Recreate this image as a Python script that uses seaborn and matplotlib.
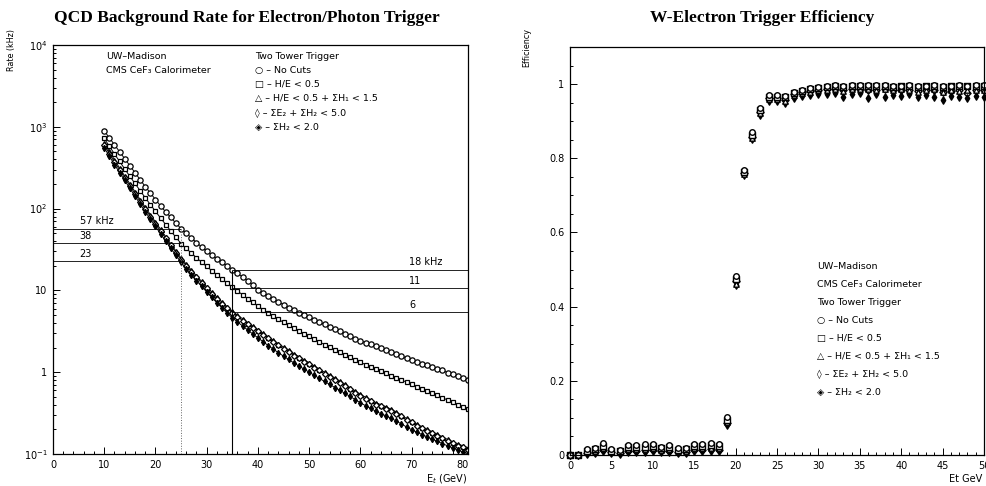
import matplotlib
matplotlib.use("Agg")
import matplotlib.pyplot as plt
import seaborn as sns
from matplotlib.ticker import FixedLocator, MultipleLocator, LogLocator, NullFormatter

# ---------------- data: QCD background rate (kHz) vs Et (GeV) ----------------
et_rate = list(range(10, 82))
rate_nocuts = [891, 733, 603, 495, 407, 335, 275, 226, 186, 155, 129, 108, 91, 78, 66, 57,
               50, 44, 38.5, 34, 30, 27, 24.5, 22, 20, 18, 16.2, 14.6, 13.2, 11.6, 10.2,
               9.3, 8.5, 7.85, 7.24, 6.68, 6.17, 5.71, 5.31, 4.98, 4.68, 4.37, 4.07, 3.83,
               3.59, 3.37, 3.16, 2.95, 2.75, 2.58, 2.43, 2.30, 2.19, 2.07, 1.95, 1.85, 1.76,
               1.66, 1.57, 1.49, 1.41, 1.34, 1.27, 1.21, 1.15, 1.10, 1.05, 0.99, 0.94, 0.90,
               0.85, 0.81]
rate_he = [720, 578, 466, 377, 305, 248, 203, 166, 136, 112, 92.7, 76.7, 63.8, 53.2, 44.5,
           37.3, 32.6, 28.6, 25.1, 22.1, 19.6, 17.4, 15.5, 13.8, 12.3, 11.0, 9.86, 8.83,
           7.93, 7.13, 6.43, 5.82, 5.31, 4.85, 4.44, 4.06, 3.73, 3.44, 3.18, 2.95, 2.74,
           2.54, 2.35, 2.18, 2.03, 1.88, 1.75, 1.63, 1.52, 1.41, 1.32, 1.24, 1.16, 1.09,
           1.03, 0.966, 0.910, 0.855, 0.804, 0.757, 0.711, 0.668, 0.630, 0.592, 0.555,
           0.520, 0.488, 0.457, 0.429, 0.402, 0.377, 0.353]
rate_he_h1 = [640, 500, 395, 313, 250, 201, 161, 129, 104, 84.5, 68.5, 55.8, 45.5, 37.0,
              30.3, 24.8, 21.0, 17.7, 15.1, 12.9, 11.1, 9.55, 8.28, 7.22, 6.32, 5.56, 4.99,
              4.50, 4.05, 3.65, 3.30, 2.99, 2.71, 2.45, 2.23, 2.03, 1.86, 1.69, 1.55, 1.42,
              1.30, 1.19, 1.09, 1.00, 0.92, 0.85, 0.775, 0.71, 0.645, 0.59, 0.535, 0.495,
              0.458, 0.426, 0.400, 0.378, 0.352, 0.326, 0.298, 0.272, 0.250, 0.232, 0.215,
              0.200, 0.187, 0.174, 0.162, 0.151, 0.141, 0.133, 0.126, 0.119]
rate_eh5 = [555, 437, 346, 276, 221, 177, 142, 114, 92, 74.5, 60.5, 49.2, 40.1, 32.7, 26.8,
            22.0, 18.5, 15.6, 13.2, 11.2, 9.6, 8.2, 7.05, 6.1, 5.3, 4.62, 4.12, 3.68, 3.28,
            2.93, 2.63, 2.36, 2.12, 1.91, 1.73, 1.57, 1.43, 1.30, 1.19, 1.09, 1.00, 0.915,
            0.84, 0.77, 0.71, 0.65, 0.60, 0.55, 0.505, 0.462, 0.422, 0.390, 0.360, 0.334,
            0.311, 0.292, 0.273, 0.253, 0.233, 0.214, 0.198, 0.185, 0.173, 0.162, 0.152,
            0.143, 0.134, 0.126, 0.119, 0.112, 0.106, 0.101]
rate_h2 = [600, 470, 370, 298, 236, 190, 152, 122, 99, 80, 65, 53, 43.5, 35.5, 29.0, 23.6,
           20.1, 16.8, 14.5, 12.3, 10.6, 9.1, 7.95, 6.85, 6.05, 5.3, 4.78, 4.28, 3.88, 3.47,
           3.16, 2.84, 2.59, 2.33, 2.14, 1.93, 1.78, 1.60, 1.49, 1.34, 1.25, 1.12, 1.05,
           0.95, 0.885, 0.80, 0.74, 0.67, 0.62, 0.555, 0.515, 0.468, 0.440, 0.402, 0.383,
           0.356, 0.340, 0.310, 0.289, 0.258, 0.243, 0.220, 0.209, 0.190, 0.182, 0.166,
           0.158, 0.144, 0.138, 0.127, 0.123, 0.113]

# reference cut lines (kHz) and their labels
ref_et_low, ref_et_high = 25, 35
ref_levels_low = [57, 38, 23]
ref_labels_low = ["57 kHz", "38", "23"]
ref_levels_high = [18, 10.8, 5.5]
ref_labels_high = ["18 kHz", "11", "6"]

# ---------------- data: W-electron trigger efficiency vs Et (GeV) ----------------
et_eff = list(range(0, 51))
eff_nocuts = [0.0, 0.0, 0.016, 0.020, 0.033, 0.015, 0.013, 0.028, 0.026, 0.029, 0.031,
              0.022, 0.027, 0.018, 0.018, 0.030, 0.031, 0.033, 0.030, 0.102, 0.482, 0.768,
              0.870, 0.935, 0.970, 0.970, 0.968, 0.980, 0.985, 0.990, 0.992, 0.995, 0.997,
              0.995, 0.997, 0.998, 0.997, 0.997, 0.997, 0.995, 0.996, 0.997, 0.995, 0.996,
              0.997, 0.995, 0.996, 0.997, 0.996, 0.997, 0.997]
eff_he = [0.0, 0.0, 0.012, 0.016, 0.025, 0.012, 0.010, 0.022, 0.021, 0.022, 0.024, 0.018,
          0.021, 0.014, 0.015, 0.024, 0.025, 0.026, 0.024, 0.095, 0.475, 0.764, 0.862,
          0.930, 0.966, 0.966, 0.965, 0.977, 0.982, 0.988, 0.990, 0.993, 0.995, 0.993,
          0.995, 0.996, 0.995, 0.995, 0.995, 0.993, 0.994, 0.995, 0.993, 0.994, 0.995,
          0.993, 0.994, 0.995, 0.994, 0.995, 0.995]
eff_he_h1 = [0.0, 0.0, 0.008, 0.012, 0.018, 0.010, 0.008, 0.016, 0.015, 0.017, 0.018,
             0.013, 0.016, 0.010, 0.011, 0.018, 0.018, 0.019, 0.018, 0.088, 0.462, 0.758,
             0.855, 0.922, 0.960, 0.960, 0.955, 0.970, 0.975, 0.980, 0.983, 0.985, 0.988,
             0.982, 0.986, 0.988, 0.987, 0.983, 0.987, 0.984, 0.986, 0.985, 0.980, 0.984,
             0.987, 0.978, 0.984, 0.981, 0.983, 0.985, 0.984]
eff_eh5 = [0.0, 0.0, 0.004, 0.006, 0.010, 0.005, 0.004, 0.008, 0.008, 0.009, 0.010, 0.007,
           0.009, 0.005, 0.006, 0.010, 0.010, 0.011, 0.010, 0.082, 0.458, 0.755, 0.852,
           0.918, 0.955, 0.955, 0.950, 0.963, 0.968, 0.970, 0.973, 0.972, 0.975, 0.965,
           0.972, 0.975, 0.962, 0.972, 0.965, 0.970, 0.968, 0.972, 0.965, 0.970, 0.965,
           0.958, 0.968, 0.965, 0.962, 0.968, 0.966]
eff_h2 = [0.0, 0.0, 0.006, 0.009, 0.014, 0.007, 0.006, 0.012, 0.011, 0.013, 0.014, 0.010,
          0.012, 0.008, 0.008, 0.014, 0.014, 0.015, 0.014, 0.085, 0.468, 0.760, 0.858,
          0.925, 0.962, 0.962, 0.958, 0.972, 0.978, 0.982, 0.985, 0.986, 0.988, 0.984,
          0.987, 0.988, 0.985, 0.984, 0.986, 0.983, 0.985, 0.984, 0.982, 0.984, 0.985,
          0.980, 0.982, 0.983, 0.975, 0.984, 0.983]

legend_lines = ["○ – No Cuts", "□ – H/E < 0.5", "△ – H/E < 0.5 + ΣH₁ < 1.5",
                "◊ – ΣE₂ + ΣH₂ < 5.0", "◈ – ΣH₂ < 2.0"]

# ---------------- style ----------------
sns.set_style("ticks")
plt.rcParams['font.family'] = ['DejaVu Sans']
plt.rcParams['mathtext.fontset'] = 'dejavusans'
plt.rcParams['text.color'] = 'black'
plt.rcParams['axes.labelcolor'] = 'black'
plt.rcParams['xtick.color'] = 'black'
plt.rcParams['ytick.color'] = 'black'

W, H = 987, 486
fig = plt.figure(figsize=(W / 100, H / 100), dpi=100)
ax1 = fig.add_axes([53 / W, 1 - 454 / H, 415 / W, 409 / H])
ax2 = fig.add_axes([570 / W, 1 - 455 / H, 414 / W, 408 / H])

for ax in (ax1, ax2):
    for sp in ax.spines.values():
        sp.set_color("black")
        sp.set_linewidth(0.9)
    ax.tick_params(which="both", direction="in", colors="black", labelcolor="black",
                   labelsize=7, width=0.7)
    ax.tick_params(which="major", length=5, pad=4)
    ax.tick_params(which="minor", length=2.5)

# ---------------- left panel ----------------
left_series = [
    (rate_nocuts, "o", "white", 3.8),
    (rate_he, "s", "white", 3.3),
    (rate_he_h1, "^", "white", 3.6),
    (rate_h2, "D", "white", 3.0),
    (rate_eh5, "d", "black", 3.2),
]
for vals, mk, fc, ms in left_series:
    sns.lineplot(x=et_rate, y=vals, ax=ax1, color="black", linewidth=0.7,
                 marker=mk, markersize=ms, markerfacecolor=fc,
                 markeredgecolor="black", markeredgewidth=0.9, estimator=None)

ax1.set_yscale("log")
ax1.set_xlim(0, 81)
ax1.set_ylim(0.1, 1e4)

ax1.hlines(ref_levels_low, 0, ref_et_low, colors="black", linewidth=0.6)
ax1.vlines(ref_et_low, 0.1, ref_levels_low[0], colors="0.4", linewidth=0.7, linestyles=":")
ax1.vlines(ref_et_high, 0.1, ref_levels_high[0], colors="black", linewidth=0.8)
ax1.hlines(ref_levels_high, ref_et_high, 81, colors="black", linewidth=0.6)
for lev, lab in zip(ref_levels_low, ref_labels_low):
    ax1.text(5.2, lev * 1.06, lab, fontsize=7, ha="left", va="bottom")
label_x_high = [69.4, 70.7, 70.2]
label_ha_high = ["left", "center", "center"]
for lev, lab, lx, ha in zip(ref_levels_high, ref_labels_high, label_x_high, label_ha_high):
    ax1.text(lx, lev * 1.06, lab, fontsize=7, ha=ha, va="bottom")

ax1.yaxis.set_major_locator(FixedLocator([0.1, 1, 10, 100, 1000, 10000]))
ax1.set_yticklabels(["$10^{-1}$", "1", "10", "$10^{2}$", "$10^{3}$", "$10^{4}$"])
ax1.yaxis.set_minor_locator(LogLocator(base=10, subs=range(2, 10)))
ax1.yaxis.set_minor_formatter(NullFormatter())
ax1.xaxis.set_major_locator(MultipleLocator(10))
ax1.xaxis.set_minor_locator(MultipleLocator(2))
ax1.set_xlabel("")
ax1.set_ylabel("")

t1 = dict(transform=ax1.transAxes, fontsize=6.8, ha="left", va="center")
ax1.text(0.128, 0.971, "UW–Madison", **t1)
ax1.text(0.128, 0.937, "CMS CeF₃ Calorimeter", **t1)
ax1.text(0.487, 0.971, "Two Tower Trigger", **t1)
for i, s in enumerate(legend_lines):
    ax1.text(0.487, 0.937 - 0.0345 * i, s, **t1)

# ---------------- right panel ----------------
right_series = [
    (eff_h2, "D", "white", 13),
    (eff_eh5, "d", "black", 14),
    (eff_he_h1, "^", "white", 15),
    (eff_he, "s", "white", 14),
    (eff_nocuts, "o", "white", 16),
]
for vals, mk, fc, s in right_series:
    sns.scatterplot(x=et_eff, y=vals, ax=ax2, marker=mk, s=s, facecolor=fc,
                    edgecolor="black", linewidth=1.0, legend=False, clip_on=False)

ax2.set_xlim(0, 50)
ax2.set_ylim(0, 1.1)
ax2.xaxis.set_major_locator(MultipleLocator(5))
ax2.xaxis.set_minor_locator(MultipleLocator(1))
ax2.yaxis.set_major_locator(FixedLocator([0, 0.2, 0.4, 0.6, 0.8, 1.0]))
ax2.set_yticklabels(["0", "0.2", "0.4", "0.6", "0.8", "1"])
ax2.yaxis.set_minor_locator(MultipleLocator(0.05))
ax2.set_xlabel("")
ax2.set_ylabel("")

t2 = dict(transform=ax2.transAxes, fontsize=6.8, ha="left", va="center")
ax2.text(0.597, 0.461, "UW–Madison", **t2)
ax2.text(0.597, 0.417, "CMS CeF₃ Calorimeter", **t2)
ax2.text(0.597, 0.373, "Two Tower Trigger", **t2)
for i, s in enumerate(legend_lines):
    ax2.text(0.597, 0.329 - 0.044 * i, s, **t2)

# ---------------- titles and axis labels ----------------
tf = dict(family=["Liberation Serif", "DejaVu Serif"], fontweight="bold", fontsize=12.5,
          ha="center", va="center", color="black")
fig.text(246.5 / W, 1 - 18 / H, "QCD Background Rate for Electron/Photon Trigger", **tf)
fig.text(762.5 / W, 1 - 18 / H, "W-Electron Trigger Efficiency", **tf)

fig.text(12 / W, 1 - 50 / H, "Rate (kHz)", rotation=90, fontsize=5.8, ha="center", va="center")
fig.text(527 / W, 1 - 47 / H, "Efficiency", rotation=90, fontsize=5.8, ha="center", va="center")
fig.text(467 / W, 1 - 479 / H, "E$_{t}$ (GeV)", fontsize=7, ha="right", va="center")
fig.text(982 / W, 1 - 479 / H, "Et GeV", fontsize=7, ha="right", va="center")

fig.savefig("out.png", dpi=100)
